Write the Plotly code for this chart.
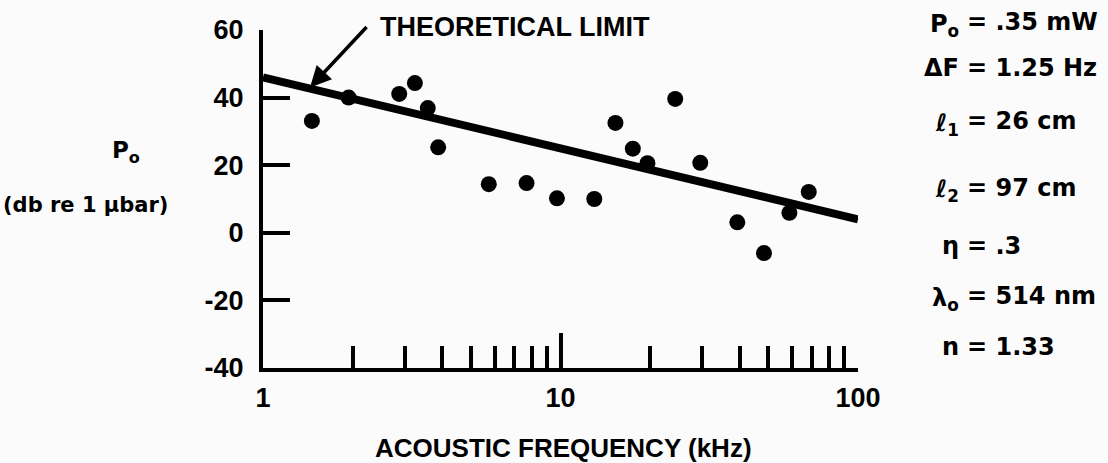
import plotly.graph_objects as go

# Data
freq_khz = [1.46, 1.94, 2.87, 3.24, 3.58, 3.88, 5.74, 7.69, 9.73, 12.99,
            15.3, 17.5, 19.6, 24.3, 29.5, 39.3, 48.3, 58.8, 68.3]
level_db = [33.1, 40.0, 41.1, 44.3, 36.9, 25.3, 14.4, 14.7, 10.2, 10.0,
            32.5, 24.9, 20.6, 39.6, 20.7, 3.1, -6.0, 5.9, 12.1]
limit_freq = [1, 100]
limit_db = [46, 4]

x_tickvals = [1, 10, 100]
x_ticktext = ["1", "10", "100"]
x_minor = [2, 3, 4, 5, 6, 7, 8, 9, 20, 30, 40, 50, 60, 70, 80, 90]
y_tickvals = [-40, -20, 0, 20, 40, 60]
y_ticktext = ["-40", "-20", "0", "20", "40", "60"]

param_symbols = ["P<sub>o</sub>", "ΔF", "ℓ<sub>1</sub>", "ℓ<sub>2</sub>", "η", "λ<sub>o</sub>", "n"]
param_values = ["= .35 mW", "= 1.25 Hz", "= 26 cm", "= 97 cm", "= .3", "= 514 nm", "= 1.33"]

W, H = 1108, 463
L, R, T, B = 263, 250, 30, 95
PW, PH = W - L - R, H - T - B


def px(xp):
    return (xp - L) / PW


def py(yp):
    return (H - B - yp) / PH


FONT = "Liberation Sans, Arial, sans-serif"
FONT2 = "DejaVu Sans, sans-serif"

fig = go.Figure()
fig.add_trace(go.Scatter(x=limit_freq, y=limit_db, mode="lines",
                         line=dict(color="black", width=8), showlegend=False))
fig.add_trace(go.Scatter(x=freq_khz, y=level_db, mode="markers",
                         marker=dict(color="black", size=16), showlegend=False))

annotations = []
# theoretical limit label and arrow
annotations.append(dict(x=0.158, y=43, xref="x", yref="y", text="", showarrow=True,
                        ax=58, ay=-62, arrowhead=2, arrowsize=1.2, arrowwidth=3.5,
                        arrowcolor="black", standoff=0))
annotations.append(dict(x=px(378), y=py(27), xref="paper", yref="paper",
                        text="<b>THEORETICAL LIMIT</b>", showarrow=False,
                        xanchor="left", yanchor="middle",
                        font=dict(family=FONT, size=27, color="black")))
# y axis title
annotations.append(dict(x=px(126), y=py(152), xref="paper", yref="paper",
                        text="<b>P<sub>o</sub></b>", showarrow=False,
                        xanchor="center", yanchor="middle",
                        font=dict(family=FONT2, size=23, color="black")))
annotations.append(dict(x=px(1), y=py(205), xref="paper", yref="paper",
                        text="<b>(db re 1 μbar)</b>", showarrow=False,
                        xanchor="left", yanchor="middle",
                        font=dict(family=FONT2, size=21, color="black")))
# x axis title
annotations.append(dict(x=px(563), y=py(448), xref="paper", yref="paper",
                        text="<b>ACOUSTIC FREQUENCY (kHz)</b>", showarrow=False,
                        xanchor="center", yanchor="middle",
                        font=dict(family=FONT, size=26, color="black")))
# parameter block
rows_y = [22, 68, 121, 188, 246, 296, 347]
for sym, val, yy in zip(param_symbols, param_values, rows_y):
    annotations.append(dict(x=px(961), y=py(yy), xref="paper", yref="paper",
                            text="<b>" + sym + "</b>", showarrow=False,
                            xanchor="right", yanchor="middle", yshift=-3 if "<sub>" in sym else 0,
                            font=dict(family=FONT2, size=24, color="black")))
    annotations.append(dict(x=px(965), y=py(yy), xref="paper", yref="paper",
                            text="<b>" + val + "</b>", showarrow=False,
                            xanchor="left", yanchor="middle",
                            font=dict(family=FONT2, size=24, color="black")))

fig.update_layout(
    width=W, height=H,
    margin=dict(l=L, r=R, t=T, b=B),
    paper_bgcolor="#fbfbfb", plot_bgcolor="#fbfbfb",
    annotations=annotations,
    xaxis=dict(type="log", range=[0, 2], showgrid=False, zeroline=False,
               showline=True, linecolor="black", linewidth=4,
               tickvals=x_tickvals, ticktext=x_ticktext,
               ticks="inside", ticklen=35, tickwidth=4, tickcolor="black",
               ticklabelstandoff=3,
               tickfont=dict(family=FONT, size=27, color="black", weight="bold"),
               minor=dict(tickvals=x_minor, ticks="inside", ticklen=22,
                          tickwidth=4, tickcolor="black", showgrid=False)),
    yaxis=dict(range=[-40, 60], showgrid=False, zeroline=False,
               showline=True, linecolor="black", linewidth=4,
               tickvals=y_tickvals, ticktext=y_ticktext,
               ticks="inside", ticklen=27, tickwidth=4, tickcolor="black",
               ticklabelstandoff=10,
               tickfont=dict(family=FONT, size=27, color="black", weight="bold")),
)

fig.write_html("out.html", config={"displayModeBar": False},
               post_script="document.body.style.margin='0';document.body.style.overflow='hidden';")
